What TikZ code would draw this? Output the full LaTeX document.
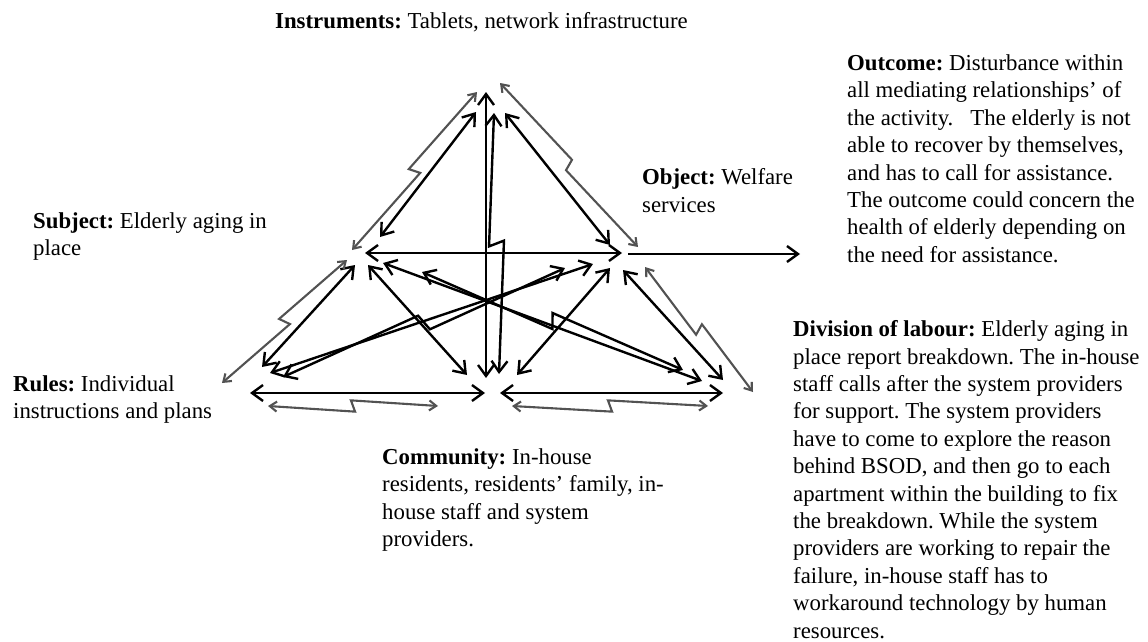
\documentclass[tikz,border=0pt]{standalone}
\usepackage{fontspec}
\setmainfont{Liberation Serif}
\usetikzlibrary{arrows.meta,calc}

\tikzset{
  txt/.style={anchor=north west, inner sep=0pt, align=left,
    font=\fontsize{22.8}{27.4}\selectfont\frenchspacing},
  rel/.style={line width=2.4pt,
    {Straight Barb[length=11pt,width=16pt]}-{Straight Barb[length=11pt,width=16pt]}},
  fault/.style={line width=2.1pt, draw=black!68,
    {Straight Barb[length=7pt,width=10pt]}-{Straight Barb[length=7pt,width=10pt]}},
  bolt/.style={to path={
    -- ($(\tikztostart)!.5!(\tikztotarget)!#1!-70:(\tikztotarget)$)
    -- ($(\tikztostart)!.5!(\tikztotarget)!#1!110:(\tikztotarget)$)
    -- (\tikztotarget)}},
  bolt/.default=8pt
}

\begin{document}
\begin{tikzpicture}[x=1pt,y=-1pt]
  \useasboundingbox (0,0) rectangle (1148,642);

  % Labels of the six corners and the outcome.
  \node[txt] (instr) at (275,12.5) {\textbf{Instruments:} Tablets, network infrastructure};
  \node[txt] (outcome) at (847,54.5) {\textbf{Outcome:} Disturbance within\\
    all mediating relationships' of\\
    the activity.\ \ \ The elderly is not\\
    able to recover by themselves,\\
    and has to call for assistance.\\
    The outcome could concern the\\
    health of elderly depending on\\
    the need for assistance.};
  \node[txt] (object) at (642,168.5) {\textbf{Object:} Welfare\\ services};
  \node[txt] (subject) at (33,212) {\textbf{Subject:} Elderly aging in\\ place};
  \node[txt] (rules) at (13,375.5) {\textbf{Rules:} Individual\\ instructions and plans};
  \node[txt] (community) at (382,448.5) {\textbf{Community:} In-house\\
    residents, residents' family, in-\\
    house staff and system\\
    providers.};
  \node[txt] (division) at (793,320.5) {\textbf{Division of labour:} Elderly aging in\\
    place report breakdown. The in-house\\
    staff calls after the system providers\\
    for support. The system providers\\
    have to come to explore the reason\\
    behind BSOD, and then go to each\\
    apartment within the building to fix\\
    the breakdown. While the system\\
    providers are working to repair the\\
    failure, in-house staff has to\\
    workaround technology by human\\
    resources.};

  % Ends of the links (XY = end at corner X of the link X--Y).
  \coordinate (IC) at (486,92);   \coordinate (CI) at (486,378);
  \coordinate (IC2) at (494,113); \coordinate (CI2) at (499,374);
  \coordinate (IS) at (476,112);  \coordinate (SI) at (380,237);
  \coordinate (IO) at (505,113);  \coordinate (OI) at (610,245);
  \coordinate (SO) at (365,253);  \coordinate (OS) at (622,253);
  \coordinate (SR) at (355,265);  \coordinate (RS) at (262,367);
  \coordinate (SC) at (368,265);  \coordinate (CS) at (467,375);
  \coordinate (OC) at (610,268);  \coordinate (CO) at (517,375);
  \coordinate (OD) at (623,270);  \coordinate (DO) at (723,380);
  \coordinate (SD) at (383,263);  \coordinate (DS) at (702,381);
  \coordinate (SD2) at (422,272); \coordinate (DS2) at (683,370);
  \coordinate (OR) at (593,264);  \coordinate (RO) at (270,373);
  \coordinate (OR2) at (565,268); \coordinate (RO2) at (283,377);
  \coordinate (RC) at (250,393);  \coordinate (CR) at (485,393);
  \coordinate (CD) at (500,393);  \coordinate (DC) at (723,393);
  \coordinate (Oout) at (628,254); \coordinate (out) at (800,254);

  % Mediating relationships.
  \draw[rel] (IC) -- (CI);
  \draw[rel] (IC2) to[bolt] (CI2);
  \draw[rel] (IS) -- (SI);
  \draw[rel] (IO) -- (OI);
  \draw[rel] (SO) -- (OS);
  \draw[rel] (SR) -- (RS);
  \draw[rel] (SC) -- (CS);
  \draw[rel] (OC) -- (CO);
  \draw[rel] (OD) -- (DO);
  \draw[rel] (SD) -- (DS);
  \draw[rel] (SD2) to[bolt] (DS2);
  \draw[rel] (OR) -- (RO);
  \draw[rel] (OR2) to[bolt=-9pt] (RO2);
  \draw[rel] (RC) -- (CR);
  \draw[rel] (CD) -- (DC);
  \draw[line width=2.4pt,-{Straight Barb[length=11pt,width=16pt]}] (Oout) -- (out);

  % Disturbances along the outer edges.
  \coordinate (fIS) at (477,92);  \coordinate (fSI) at (352,250);
  \coordinate (fIO) at (500,83);  \coordinate (fOI) at (638,247);
  \coordinate (fSR) at (347,260); \coordinate (fRS) at (222,383);
  \coordinate (fOD) at (645,267); \coordinate (fDO) at (753,392);
  \coordinate (fRC) at (268,406); \coordinate (fCR) at (438,406);
  \coordinate (fCD) at (512,406); \coordinate (fDC) at (708,406);
  \draw[fault] (fIS) to[bolt=6pt] (fSI);
  \draw[fault] (fIO) to[bolt=-6pt] (fOI);
  \draw[fault] (fSR) to[bolt=6pt] (fRS);
  \draw[fault] (fOD) to[bolt=6pt] (fDO);
  \draw[fault] (fRC) to[bolt=6pt] (fCR);
  \draw[fault] (fCD) to[bolt=6pt] (fDC);
\end{tikzpicture}
\end{document}
